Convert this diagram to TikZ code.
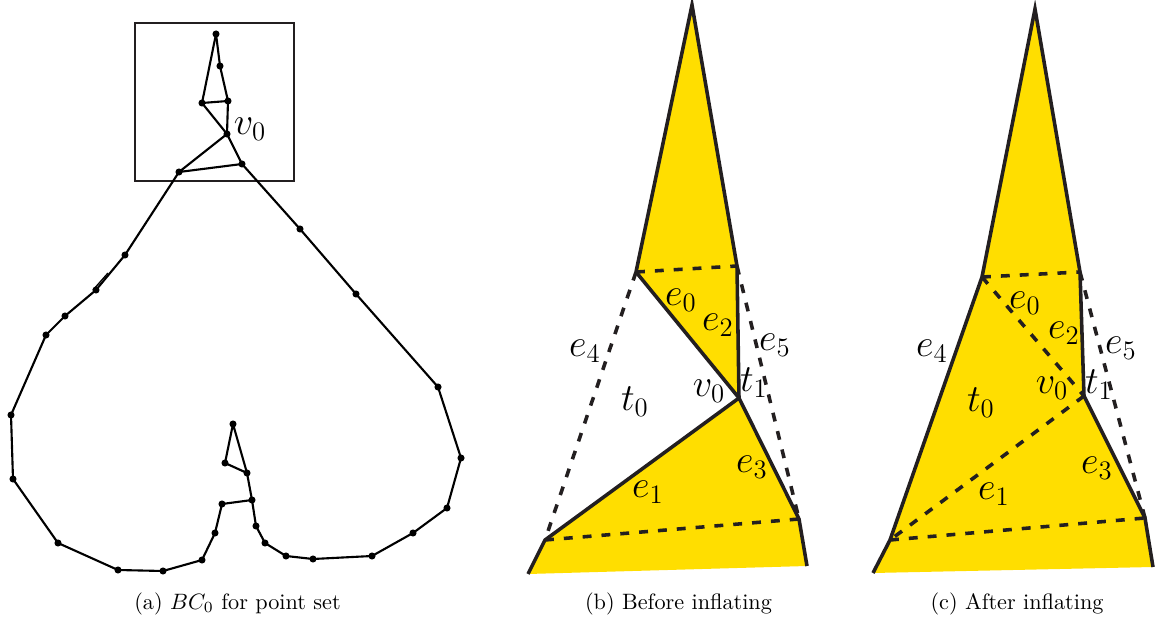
\documentclass[tikz,border=0pt]{standalone}
\begin{document}
\definecolor{fillY}{HTML}{FFDE00}
\definecolor{ink}{HTML}{231F20}
\begin{tikzpicture}[x=0.45pt,y=-0.45pt,
  thin edge/.style={draw=black, line width=0.95pt, line join=round},
  boxline/.style={draw=ink, line width=1.1pt},
  vdot/.style={fill=black},
  poly/.style={draw=ink, line width=1.6pt, line join=miter, miter limit=12},
  dashedge/.style={draw=ink, line width=1.6pt, dash pattern=on 4pt off 4.5pt},
  region/.style={fill=fillY},
  lbl/.style={font=\fontsize{16.5}{19}\selectfont, inner sep=0pt},
  captxt/.style={anchor=base, font=\fontsize{10}{12}\selectfont, inner sep=0pt}]
\useasboundingbox (0,0) rectangle (1158,622);

% ---------------- (a) ----------------
\coordinate (P1) at (216,34);
\coordinate (P2) at (220,66);
\coordinate (P3) at (228,101);
\coordinate (P4) at (202,103);
\coordinate (V)  at (227,134);
\coordinate (P5) at (242,164);
\coordinate (P6) at (179,172);
\coordinate (P7) at (125,255);
\coordinate (P8) at (96,290);
\coordinate (P9) at (65,316);
\coordinate (P10) at (46,335);
\coordinate (P11) at (11,415);
\coordinate (P12) at (13,479);
\coordinate (P13) at (58,543);
\coordinate (P14) at (118,570);
\coordinate (P15) at (163,571);
\coordinate (P16) at (202,560);
\coordinate (P17) at (215,533);
\coordinate (P18) at (222,504);
\coordinate (P19) at (252,500);
\coordinate (P20) at (256,526);
\coordinate (P21) at (265,543);
\coordinate (P22) at (286,556);
\coordinate (P23) at (313,559);
\coordinate (P24) at (372,556);
\coordinate (P25) at (413,533);
\coordinate (P26) at (447,508);
\coordinate (P27) at (461,458);
\coordinate (P28) at (438,387);
\coordinate (P29) at (356,294);
\coordinate (P30) at (300,229);
\coordinate (Q1) at (233,424);
\coordinate (Q2) at (225,463);
\coordinate (Q3) at (247,473);
\coordinate (D1) at (93,290);
\coordinate (D2) at (108,273);

\draw[boxline] (135,23) rectangle (294,181);

\draw[thin edge] (P1) -- (P2) -- (P3) -- (V);
\draw[thin edge] (P1) -- (P4) -- (P3);
\draw[thin edge] (P4) -- (V);
\draw[thin edge] (V) -- (P6) -- (P5) -- (V);
\draw[thin edge] (P6) -- (P7) -- (P8) -- (P9) -- (P10) -- (P11) -- (P12) -- (P13)
  -- (P14) -- (P15) -- (P16) -- (P17) -- (P18) -- (P19);
\draw[thin edge] (P5) -- (P30) -- (P29) -- (P28) -- (P27) -- (P26) -- (P25) -- (P24)
  -- (P23) -- (P22) -- (P21) -- (P20) -- (P19);
\draw[thin edge] (Q1) -- (Q2) -- (Q3) -- cycle;
\draw[thin edge] (Q3) -- (P19);
\draw[draw=black, line width=0.6pt] (D1) -- (D2);

\foreach \p in {P1,P2,P3,P4,V,P5,P6,P7,P8,P9,P10,P11,P12,P13,P14,P15,P16,P17,P18,P19,
  P20,P21,P22,P23,P24,P25,P26,P27,P28,P29,P30,Q1,Q2,Q3}
  \fill[vdot] (\p) circle (1.6pt);

\node[lbl] (lv) at (250,129) {$v_0$};
\node[captxt] (capa) at (237.5,609) {(a) $BC_0$ for point set};

% ---------------- (b) ----------------
\coordinate (bA) at (692,5);
\coordinate (bL) at (636,272);
\coordinate (bR) at (737,266);
\coordinate (bV) at (739,398);
\coordinate (bBL) at (545,540);
\coordinate (bBR) at (799,519);
\coordinate (bFL) at (528,574);
\coordinate (bFR) at (807,566);

\fill[region] (bA) -- (bR) -- (bV) -- (bBR) -- (bFR) -- (bFL) -- (bBL) -- (bV) -- (bL) -- cycle;
\draw[dashedge] (bL) -- (bR);
\draw[dashedge] (bL) -- (bBL);
\draw[dashedge] (bR) -- (bBR);
\draw[dashedge] (bBL) -- (bBR);
\draw[poly] (bL) -- (bA) -- (bR) -- (bV);
\draw[poly] (bL) -- (bV);
\draw[poly] (bFL) -- (bBL) -- (bV) -- (bBR) -- (bFR);

\node[lbl] (be0) at (681,300) {$e_0$};
\node[lbl] (be2) at (718,325) {$e_2$};
\node[lbl] (be5) at (775,345) {$e_5$};
\node[lbl] (be4) at (585,351) {$e_4$};
\node[lbl] (bt0) at (635,402) {$t_0$};
\node[lbl] (bv0) at (709,391) {$v_0$};
\node[lbl] (bt1) at (754,383) {$t_1$};
\node[lbl] (be3) at (752,467) {$e_3$};
\node[lbl] (be1) at (648,492) {$e_1$};
\node[captxt] (capb) at (678.5,609) {(b) Before inflating};

% ---------------- (c) ----------------
\coordinate (cA) at (1035,9);
\coordinate (cL) at (982,277);
\coordinate (cR) at (1080,272);
\coordinate (cV) at (1084,396);
\coordinate (cBL) at (890,540);
\coordinate (cBR) at (1145,518);
\coordinate (cFL) at (873,573);
\coordinate (cFR) at (1153,567);

\fill[region] (cA) -- (cR) -- (cV) -- (cBR) -- (cFR) -- (cFL) -- (cBL) -- (cL) -- cycle;
\draw[dashedge] (cL) -- (cR);
\draw[dashedge] (cL) -- (cV);
\draw[dashedge] (cV) -- (cBL);
\draw[dashedge] (cBL) -- (cBR);
\draw[dashedge] (cR) -- (cBR);
\draw[poly] (cFL) -- (cBL) -- (cL) -- (cA) -- (cR) -- (cV) -- (cBR) -- (cFR);

\node[lbl] (ce0) at (1025,303) {$e_0$};
\node[lbl] (ce2) at (1064,333) {$e_2$};
\node[lbl] (ce5) at (1121,348) {$e_5$};
\node[lbl] (ce4) at (932,351) {$e_4$};
\node[lbl] (cv0) at (1052,388) {$v_0$};
\node[lbl] (ct1) at (1099,385) {$t_1$};
\node[lbl] (ct0) at (981,403) {$t_0$};
\node[lbl] (ce3) at (1097,468) {$e_3$};
\node[lbl] (ce1) at (994,494) {$e_1$};
\node[captxt] (capc) at (1017,609) {(c) After inflating};
\end{tikzpicture}
\end{document}
